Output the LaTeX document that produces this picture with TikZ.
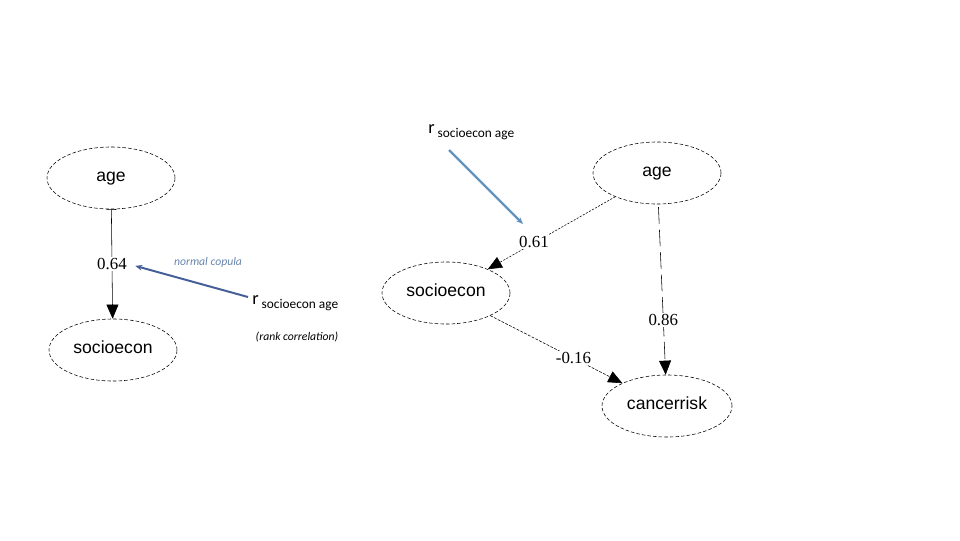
\documentclass[tikz,border=0pt]{standalone}
\usepackage{fontspec}
\setmainfont{Liberation Serif}
\setsansfont{Liberation Sans}
\newfontfamily\notefont{Carlito}
\usepackage{xcolor}
\usetikzlibrary{positioning, arrows.meta, shapes.geometric}

\definecolor{copuladark}{RGB}{68,95,152}
\definecolor{copulalight}{RGB}{96,145,192}
\definecolor{copulatext}{RGB}{105,135,175}

\begin{document}
\begin{tikzpicture}[
    x=0.025cm, y=-0.025cm,
    var/.style={ellipse, draw, dashed, dash pattern=on 2.5pt off 1.5pt, thin, minimum width=3.2cm, minimum height=1.55cm, inner sep=0pt, text height=1ex, text depth=0pt, font=\sffamily\fontsize{12.5}{14}\selectfont},
    weight/.style={fill=white, inner sep=1pt, font=\fontsize{12}{13}\selectfont},
    infl/.style={-{Triangle[length=10pt, width=8.5pt]}, thin},
    copula/.style={-{Stealth[length=5pt, width=4pt]}, line width=1.4pt},
    rankvar/.style={anchor=west, inner sep=0pt, font=\notefont\fontsize{13}{14}\selectfont}
]
\useasboundingbox (0,0) rectangle (960,540);

% left: two-variable copula
\node[var] (ageL) at (111,178) {age};
\node[var] (socL) at (113,350) {socioecon};
\draw[infl, {Bar[width=7pt]}-{Triangle[length=10pt, width=8.5pt]}] (ageL) -- (socL) node[weight, pos=0.5] (wL) {0.64};

\node[rankvar] (rL) at (252,303) {r\raisebox{-0.5ex}{\fontsize{9.5}{10}\selectfont\ socioecon age}};
\node[inner sep=0pt, text=copulatext, font=\notefont\itshape\fontsize{8.3}{9}\selectfont] (cop) at (208,262) {normal copula};
\node[inner sep=0pt, font=\notefont\itshape\fontsize{8.3}{9}\selectfont] (rank) at (297,337) {(rank correlation)};
\draw[copula, copuladark, shorten >=5pt] (rL.west) ++(-4,-6) coordinate (rLs) -- (wL.east);

% right: three-variable graph
\node[var] (ageR) at (657,173) {age};
\node[var] (socR) at (446,293) {socioecon};
\node[var, minimum width=3.25cm] (risk) at (667,406) {cancerrisk};

\draw[infl, dash pattern=on 1.5pt off 1pt] (ageR) -- (socR) node[weight, pos=0.66, xshift=2pt, yshift=2pt] (wR) {0.61};
\draw[infl, dash pattern=on 12pt off 4pt, shorten <=2pt] (ageR) -- (risk) node[weight, pos=0.68] {0.86};
\draw[infl, dash pattern=on 2pt off 1pt] (socR) -- (risk) node[weight, pos=0.63] {-0.16};

\node[rankvar] (rR) at (428,132) {r\raisebox{-0.5ex}{\fontsize{9.5}{10}\selectfont\ socioecon age}};
\coordinate (rRs) at (449,150);
\draw[copula, copulalight, line width=1.6pt] (rRs) -- (523,224);

\end{tikzpicture}
\end{document}
